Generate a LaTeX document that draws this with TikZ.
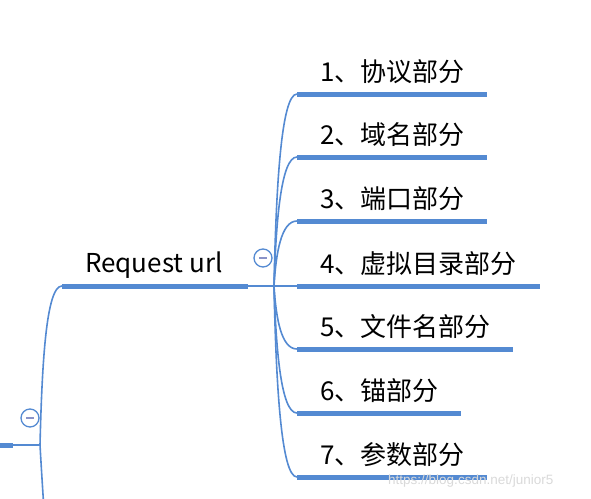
\documentclass[tikz,border=0pt]{standalone}
\usepackage{fontspec}
\newfontfamily\cjk{Noto Sans CJK SC}
\newfontfamily\wmfont{Liberation Sans}
\definecolor{mline}{RGB}{84,138,210}
\definecolor{mminus}{RGB}{138,147,200}
\begin{document}
\begin{tikzpicture}[x=1pt,y=-1pt,
  bar/.style={line width=5pt, mline},
  link/.style={line width=1.6pt, mline},
  lbl/.style={font=\cjk\fontsize{26}{31}\selectfont, anchor=base west, inner sep=0pt},
  toggle/.style={circle, draw=mline, line width=1.3pt, minimum size=18pt, inner sep=0pt, fill=white},
  minus/.style={line width=1.6pt, mminus}]
\useasboundingbox (0,0) rectangle (591,498);
\clip (0,0) rectangle (591,498);
% left part
\coordinate (s0) at (0,445);
\coordinate (s1) at (13,445);
\coordinate (L) at (40,445);
\coordinate (Lb) at (46,540);
\coordinate (r0) at (62,286);
\coordinate (r1) at (248,286);
\coordinate (J) at (274,286);
\draw[bar] (s0) -- (s1);
\draw[link] (s1) -- (L);
\draw[link] (L) .. controls (42,365) and (46,286) .. (r0);
\draw[link] (L) .. controls (42,480) and (44,510) .. (Lb);
\draw[bar] (r0) -- (r1);
\node[lbl] (rt) at (85,272) {Request url};
\draw[link] (r1) -- (J);
\node[toggle] (t1) at (30,418) {};
\draw[minus] ([xshift=-4pt]t1.center) -- ([xshift=4pt]t1.center);
\node[toggle] (t2) at (263,258) {};
\draw[minus] ([xshift=-4pt]t2.center) -- ([xshift=4pt]t2.center);
% children
\foreach \i/\y/\xe/\txt in {1/94/487/{1、协议部分},2/157/487/{2、域名部分},3/221/487/{3、端口部分},4/286/540/{4、虚拟目录部分},5/349/513/{5、文件名部分},6/413/461/{6、锚部分},7/477/487/{7、参数部分}}{
  \coordinate (b\i) at (297,\y);
  \coordinate (e\i) at (\xe,\y);
  \pgfmathsetmacro{\cy}{\y+0.5*(286-\y)}
  \draw[link] (J) .. controls (276,\cy) and (281,\y) .. (b\i);
  \draw[bar] (b\i) -- (e\i);
  \node[lbl] (n\i) at (320,\y-13) {\txt};
}
\node[font=\wmfont\fontsize{13.5}{16}\selectfont, text=gray!30, anchor=base west, inner sep=0pt] (wm) at (388,484) {https://blog.csdn.net/junior5};
\end{tikzpicture}
\end{document}
